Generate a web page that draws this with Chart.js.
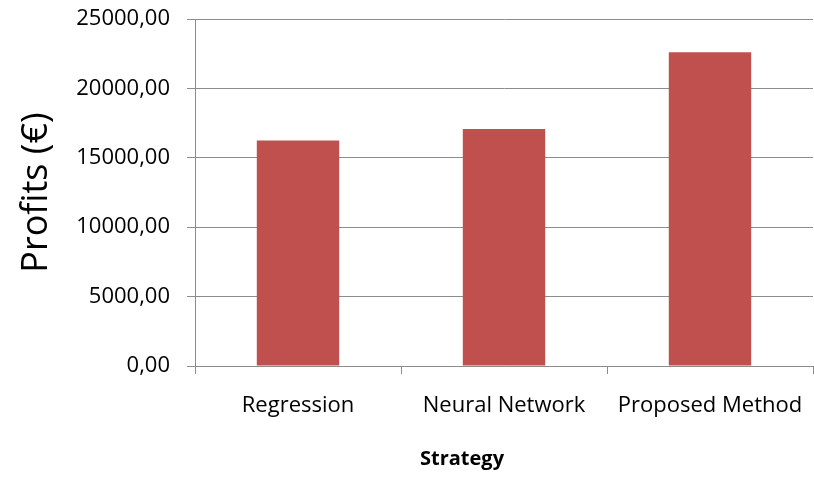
<!DOCTYPE html>
<html>
<head>
<meta charset="utf-8">
<script src="https://cdn.jsdelivr.net/npm/chart.js@4.4.0/dist/chart.umd.min.js"></script>
<style>
html,body{margin:0;padding:0;background:#fff;}
#wrap{width:814px;height:479px;position:relative;}
</style>
</head>
<body>
<div id="wrap"><canvas id="c" width="814" height="479"></canvas></div>
<script>
const categories = ["Regression", "Neural Network", "Proposed Method"];
const profits = [16250, 17070, 22600];
const yTicks = [0, 5000, 10000, 15000, 20000, 25000];
const yTitle = "Profits (€)";
const xTitle = "Strategy";

const FONT = "'Open Sans', sans-serif";
const gridColor = "#8c8c8c";

const xTitlePlugin = {
  id: 'xTitlePlugin',
  afterDraw(chart) {
    const ctx = chart.ctx;
    ctx.save();
    ctx.font = "bold 20px " + FONT;
    ctx.fillStyle = "#000";
    ctx.textAlign = "center";
    ctx.textBaseline = "middle";
    ctx.fillText(xTitle, 462, 459);
    ctx.restore();
  }
};

new Chart(document.getElementById('c'), {
  type: 'bar',
  data: {
    labels: categories,
    datasets: [{
      data: profits,
      backgroundColor: '#C0504D',
      borderWidth: 0,
      barPercentage: 0.4,
      categoryPercentage: 1.0
    }]
  },
  options: {
    responsive: false,
    animation: false,
    devicePixelRatio: 1,
    layout: { padding: { top: 19, right: 1, left: 0, bottom: 0 } },
    plugins: { legend: { display: false }, tooltip: { enabled: false } },
    scales: {
      x: {
        grid: { display: true, drawOnChartArea: false, drawTicks: true, tickLength: 8, color: gridColor, offset: true },
        border: { display: true, color: gridColor, width: 1 },
        ticks: { color: '#000', font: { family: FONT, size: 22 }, padding: 19, maxRotation: 0, autoSkip: false },
        afterFit(scale) { scale.height = 479 - 366; scale.paddingLeft = 0; scale.paddingRight = 0; }
      },
      y: {
        min: 0, max: 25000,
        afterBuildTicks(scale) { scale.ticks = yTicks.map(v => ({ value: v })); },
        grid: { color: gridColor, tickLength: 8, drawTicks: true },
        border: { display: true, color: gridColor, width: 1 },
        ticks: {
          color: '#000', font: { family: FONT, size: 22 }, padding: 17,
          callback: (v) => Number(v).toFixed(2).replace('.', ',')
        },
        title: { display: true, text: yTitle, color: '#000', font: { family: FONT, size: 36 }, padding: { top: 15, bottom: 0 } },
        afterFit(scale) { scale.width = 195; scale.paddingTop = 0; scale.paddingBottom = 0; }
      }
    }
  },
  plugins: [xTitlePlugin]
});
</script>
</body>
</html>
